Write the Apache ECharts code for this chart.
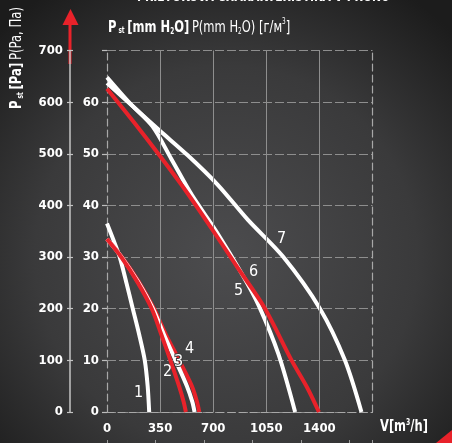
<!DOCTYPE html>
<html><head><meta charset="utf-8">
<script src="https://cdn.jsdelivr.net/npm/echarts@6/dist/echarts.min.js"></script>
<style>html,body{margin:0;padding:0;background:#2a2a2a}#c{width:452px;height:443px}</style>
</head><body><div id="c"></div>
<script>
// ---- data (V in m3/h, P in Pa) ----
const xTicks = [0, 350, 700, 1050, 1400];
const paTicks = [0, 100, 200, 300, 400, 500, 600, 700];
const mmTicks = [0, 10, 20, 30, 40, 50, 60];

const V1 = [0, 40, 84, 128, 170, 212, 249, 268, 278];
const P1 = [365, 335, 300, 250, 200, 150, 100, 50, 0];

const V2 = [0, 94, 200, 295, 358, 418, 475, 505, 520];
const P2 = [335, 300, 252, 200, 150, 100, 50, 20, 0];

const V3 = [0, 96, 203, 303, 375, 452, 527, 562, 577];
const P3 = [335, 300, 253, 200, 150, 100, 50, 20, 0];

const V4 = [0, 98, 206, 310, 388, 476, 560, 595, 608];
const P4 = [335, 300, 254, 200, 150, 100, 50, 18, 0];

const V5 = [0, 150, 300, 424, 560, 720, 900, 1002, 1130, 1240];
const P5 = [648, 598, 553, 490, 420, 350, 262, 205, 112, 0];

const V6 = [0, 175, 343, 520, 688, 860, 1040, 1215, 1320, 1397];
const P6 = [626, 562, 498, 428, 356, 280, 201, 101, 47, 0];

const V7 = [0, 170, 347, 532, 730, 929, 1160, 1402, 1567, 1677];
const P7 = [637, 592, 545, 497, 440, 372, 301, 201, 101, 0];

const curveNames = ['1', '2', '3', '4', '5', '6', '7'];

// ---- chart ----
const RED = '#e8222a';
const WHITE = '#ffffff';
const GRID = '#8e8e8e';
const FONT = '"Liberation Sans Narrow","DejaVu Sans Condensed","Roboto Condensed",sans-serif';

function zip(v, p) { return v.map((x, i) => [x, p[i]]); }

const chart = echarts.init(document.getElementById('c'), null, {renderer: 'canvas'});

function curve(name, v, p, color, z) {
  return {
    name: name, type: 'line', xAxisIndex: 0, yAxisIndex: 1,
    data: zip(v, p), smooth: 0.3,
    showSymbol: false, symbol: 'none', silent: true, z: z,
    lineStyle: {color: color, width: 4, cap: 'butt'}
  };
}

function numLabel(txt, x, y, outline) {
  const st = {text: txt, fill: '#fff', font: '16px ' + FONT};
  if (outline) { st.stroke = '#3a3a3a'; st.lineWidth = 2; }
  return {type: 'text', x: x, y: y, z: 100, silent: true, style: st};
}

const option = {
  animation: false,
  backgroundColor: {
    type: 'radial', x: 0.5, y: 0.58, r: 0.72,
    colorStops: [{offset: 0, color: '#4c4c4e'}, {offset: 0.6, color: '#3a3a3b'}, {offset: 1, color: '#1c1c1c'}]
  },
  textStyle: {fontFamily: FONT},
  grid: {left: 107, right: 79.5, top: 50.5, bottom: 31, containLabel: false},
  xAxis: [{
    type: 'value', min: 0, max: 1750, interval: 350,
    axisLine: {show: true, onZero: false, lineStyle: {color: '#a8a8a8', width: 1.2, type: [7, 4]}},
    axisTick: {show: false},
    splitLine: {show: false},
    axisLabel: {
      color: '#ffffff', fontFamily: FONT, fontWeight: 'bold', fontSize: 13, margin: 10,
      formatter: function (v) { return xTicks.indexOf(v) >= 0 ? String(v) : ''; }
    }
  }, {
    type: 'value', min: 0, max: 5.48, interval: 1, position: 'bottom', offset: 28,
    axisLine: {show: false, onZero: false}, splitLine: {show: false}, axisLabel: {show: false},
    axisTick: {show: true, length: 4, lineStyle: {color: '#9a9a9a'}}
  }],
  yAxis: [{
    type: 'value', min: 0, max: 70, interval: 10, position: 'left', offset: 0,
    axisLine: {show: true, onZero: false, lineStyle: {color: '#a8a8a8', width: 1.2, type: [7, 4]}},
    axisTick: {show: true, length: 5, lineStyle: {color: '#bdbdbd', width: 1.2}},
    splitLine: {show: true, lineStyle: {color: GRID, width: 1, type: [9, 3]}},
    axisLabel: {
      color: '#ffffff', fontFamily: FONT, fontWeight: 'bold', fontSize: 13, margin: 8,
      formatter: function (v) { return mmTicks.indexOf(v) >= 0 ? String(v) : ''; }
    }
  }, {
    type: 'value', min: 0, max: 700, interval: 100, position: 'left', offset: 37,
    axisLine: {show: true, onZero: false, lineStyle: {color: '#c4c4c4', width: 1.5}},
    axisTick: {show: true, length: 3, lineStyle: {color: '#c4c4c4', width: 1.2}},
    splitLine: {show: false},
    axisLabel: {
      color: '#ffffff', fontFamily: FONT, fontWeight: 'bold', fontSize: 13, margin: 7,
      formatter: function (v) { return paTicks.indexOf(v) >= 0 ? String(v) : ''; }
    }
  }, {
    type: 'value', min: 0, max: 700, interval: 100, position: 'left', offset: 37,
    axisLine: {show: false, onZero: false}, splitLine: {show: false}, axisLabel: {show: false},
    axisTick: {show: true, inside: true, length: 3, lineStyle: {color: '#c4c4c4', width: 1.2}}
  }, {
    type: 'value', min: 0, max: 700, interval: 100, position: 'right', offset: 0,
    axisLine: {show: true, onZero: false, lineStyle: {color: '#a8a8a8', width: 1.2, type: [7, 4]}},
    axisTick: {show: false}, splitLine: {show: false}, axisLabel: {show: false}
  }],
  series: [
    {
      type: 'line', data: [], silent: true, z: 1, xAxisIndex: 0, yAxisIndex: 1,
      markLine: {
        silent: true, symbol: ['none', 'none'], label: {show: false},
        lineStyle: {color: GRID, width: 1, type: 'solid'},
        data: xTicks.filter(v => v > 0).map(v => ({xAxis: v}))
      }
    },
    curve(curveNames[0], V1, P1, WHITE, 3),
    curve(curveNames[3], V4, P4, RED, 3),
    curve(curveNames[2], V3, P3, WHITE, 4),
    curve(curveNames[1], V2, P2, RED, 5),
    curve(curveNames[6], V7, P7, WHITE, 3),
    curve(curveNames[4], V5, P5, WHITE, 4),
    curve(curveNames[5], V6, P6, RED, 5)
  ],
  graphic: [
    {type: 'text', x: 137, y: -10, scaleX: 0.8, silent: true,
     style: {text: 'PRIETOKOVÁ CHARAKTERISTIKA V PRONU', fill: '#ffffff', font: 'bold 15px ' + FONT}},
    {type: 'text', x: 108, y: 16, scaleX: 0.8, silent: true,
     style: {
       text: '{b|P}{s| st} {b|[mm H}{bsub|2}{b|O]} {r|P(mm H}{rsub|2}{r|O) [г/м}{sup|3}{r|]}',
       rich: {
         b: {fill: '#fff', font: 'bold 16px ' + FONT, lineHeight: 20, verticalAlign: 'bottom'},
         s: {fill: '#fff', font: 'bold 8px ' + FONT, lineHeight: 20, verticalAlign: 'bottom', padding: [0, 0, 1, 0]},
         bsub: {fill: '#fff', font: 'bold 8px ' + FONT, lineHeight: 20, verticalAlign: 'bottom'},
         r: {fill: '#fff', font: '16px ' + FONT, lineHeight: 20, verticalAlign: 'bottom'},
         rsub: {fill: '#fff', font: '8px ' + FONT, lineHeight: 20, verticalAlign: 'bottom'},
         sup: {fill: '#fff', font: '8px ' + FONT, lineHeight: 20, verticalAlign: 'top', padding: [2, 0, 0, 0]}
       }
     }},
    {type: 'text', x: 9, y: 109, rotation: Math.PI / 2, scaleX: 0.81, silent: true,
     style: {
       text: '{b|P}{s| st} {b|[Pa]} {r|P(Pa, Па)}',
       rich: {
         b: {fill: '#fff', font: 'bold 16px ' + FONT, lineHeight: 16, verticalAlign: 'bottom'},
         s: {fill: '#fff', font: 'bold 8px ' + FONT, lineHeight: 16, verticalAlign: 'bottom'},
         r: {fill: '#fff', font: '16px ' + FONT, lineHeight: 16, verticalAlign: 'bottom'}
       }
     }},
    {type: 'line', silent: true, shape: {x1: 70, y1: 64, x2: 70, y2: 22},
     style: {stroke: RED, lineWidth: 3}},
    {type: 'polygon', silent: true, shape: {points: [[62.5, 25], [78.5, 25], [70.5, 9]]},
     style: {fill: RED}},
    {type: 'polygon', silent: true, shape: {points: [[436, 443], [452, 430], [452, 443]]},
     style: {fill: RED}},
    {type: 'text', x: 380, y: 419, scaleX: 0.85, silent: true,
     style: {text: '{b|V[m}{sup|3}{b|/h]}',
       rich: {
         b: {fill: '#fff', font: 'bold 15px ' + FONT, lineHeight: 16, verticalAlign: 'bottom'},
         sup: {fill: '#fff', font: 'bold 8px ' + FONT, lineHeight: 16, verticalAlign: 'top'}
       }}},
    numLabel('1', 134, 385, false),
    numLabel('2', 163, 364, false),
    numLabel('3', 174, 354, true),
    numLabel('4', 185, 341, false),
    numLabel('5', 234, 283, false),
    numLabel('6', 249, 264, false),
    numLabel('7', 277, 231, false)
  ]
};
chart.setOption(option);
</script>
</body></html>
